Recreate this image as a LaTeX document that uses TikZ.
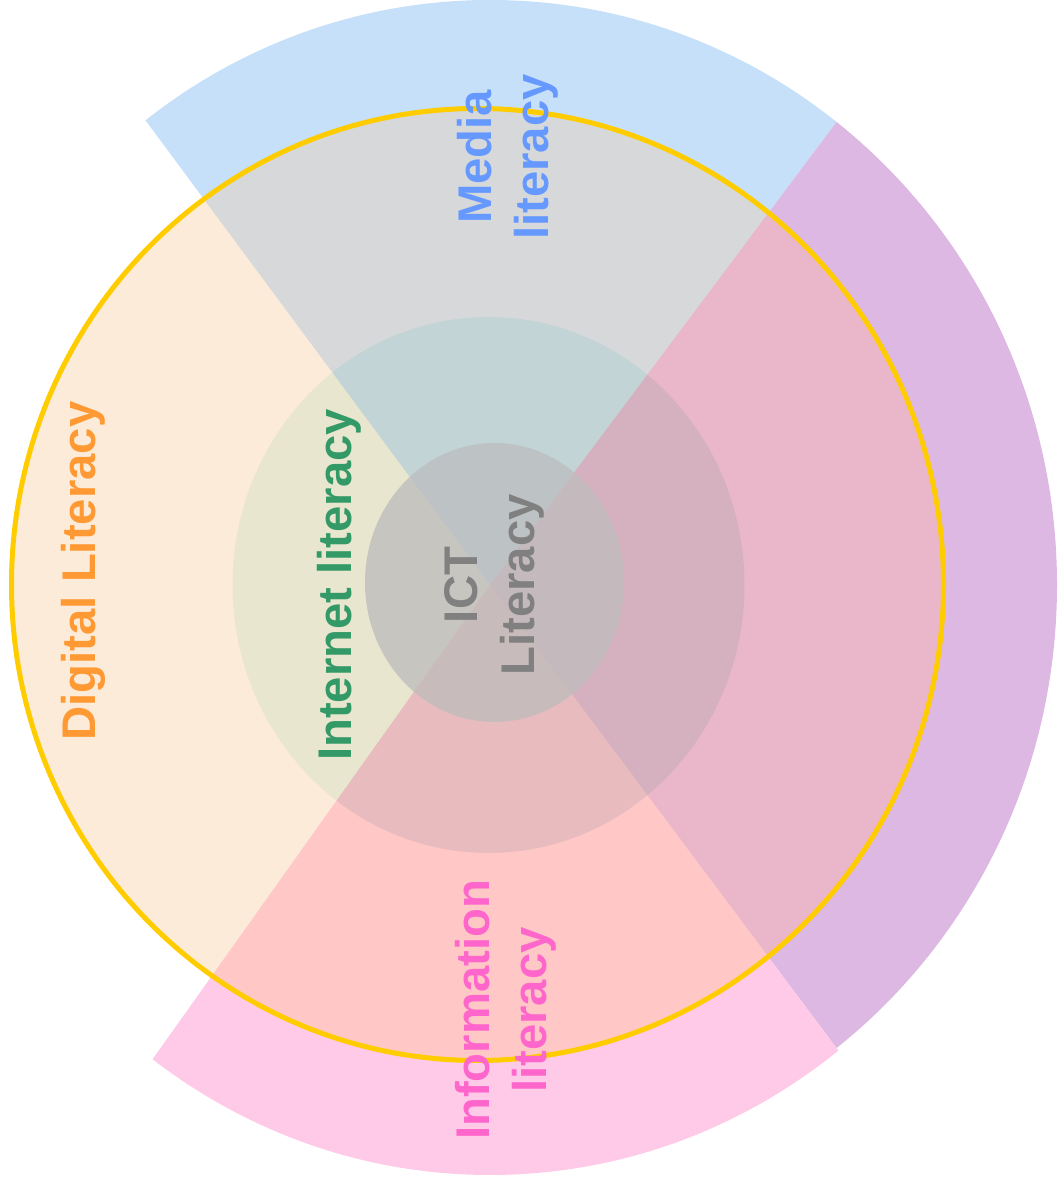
\documentclass[tikz,border=0pt]{standalone}
\usepackage{fontspec}
\setmainfont{Liberation Sans}
\begin{document}
\begin{tikzpicture}[x=0.02cm,y=0.02cm,
  lbl/.style={rotate=90, inner sep=0pt, align=center,
    font=\fontsize{26.9}{32.4}\selectfont\bfseries}]
\definecolor{medblue}{HTML}{C7E0FA}
\definecolor{infpink}{HTML}{FFC9E8}
\definecolor{mauve}{HTML}{DDB8E3}
\definecolor{ringleft}{HTML}{FDEBD9}
\definecolor{ringtop}{HTML}{D6D8DA}
\definecolor{ringright}{HTML}{EAB7CA}
\definecolor{ringbottom}{HTML}{FFC8C6}
\definecolor{netleft}{HTML}{E8E6CF}
\definecolor{nettop}{HTML}{C3D4D6}
\definecolor{netright}{HTML}{D5B1BF}
\definecolor{netbottom}{HTML}{E8BCBE}
\definecolor{ictleft}{HTML}{C7C5C0}
\definecolor{icttop}{HTML}{BDC2C4}
\definecolor{ictright}{HTML}{C4BABE}
\definecolor{ictbottom}{HTML}{C8BBBB}
\definecolor{ringline}{HTML}{FFCC00}
\definecolor{txtmedia}{HTML}{6699FF}
\definecolor{txtinfo}{HTML}{FF66CC}
\definecolor{txtdigital}{HTML}{FF9933}
\definecolor{txtnet}{HTML}{339966}
\definecolor{txtict}{HTML}{808080}
\useasboundingbox (0,0) rectangle (1059,1187);
% apex of the four wedges and far points along their borders
\coordinate (c) at (490,602);
\coordinate (ul) at (-204,1538);
\coordinate (ur) at (1186,1532);
\coordinate (lr) at (1186,-328);
\coordinate (ll) at (-186,-348);
% fill one shape, split into the four wedges
\newcommand\wedgefill[5]{%
  \begin{scope}\clip (c)--(ll)--(ul)--cycle; \fill[#2] #1; \end{scope}
  \begin{scope}\clip (c)--(ul)--(ur)--cycle; \fill[#3] #1; \end{scope}
  \begin{scope}\clip (c)--(ur)--(lr)--cycle; \fill[#4] #1; \end{scope}
  \begin{scope}\clip (c)--(lr)--(ll)--cycle; \fill[#5] #1; \end{scope}}
% outer sectors
\begin{scope}\clip (c)--(ul)--(ur)--cycle;
  \fill[medblue] (c) ellipse [x radius=567, y radius=585]; \end{scope}
\begin{scope}\clip (c)--(ur)--(lr)--cycle;
  \fill[mauve] (c) ellipse [x radius=567, y radius=585]; \end{scope}
\begin{scope}\clip (c)--(lr)--(ll)--cycle;
  \fill[infpink] (c) ellipse [x radius=567, y radius=590]; \end{scope}
% digital literacy ring
\wedgefill{(477.5,602.5) ellipse [x radius=466, y radius=476]}{ringleft}{ringtop}{ringright}{ringbottom}
% internet literacy disc
\wedgefill{(488.5,602) ellipse [x radius=256, y radius=268]}{netleft}{nettop}{netright}{netbottom}
% ICT literacy disc
\wedgefill{(494.5,604.5) ellipse [x radius=129.5, y radius=139.5]}{ictleft}{icttop}{ictright}{ictbottom}
% outline of the digital literacy ring
\draw[ringline, line width=0.1cm] (477.5,602.5) ellipse [x radius=466, y radius=476];
% labels
\node[lbl, text=txtmedia] (media) at (507.5,1030) {Media\\literacy};
\node[lbl, text=txtinfo] (info) at (506,177) {Information\\literacy};
\node[lbl, text=txtdigital] (digital) at (83.5,616) {Digital Literacy};
\node[lbl, text=txtnet] (internet) at (339,602) {Internet literacy};
\node[lbl, text=txtict] (ict) at (494,602) {ICT\\Literacy};
\end{tikzpicture}
\end{document}
